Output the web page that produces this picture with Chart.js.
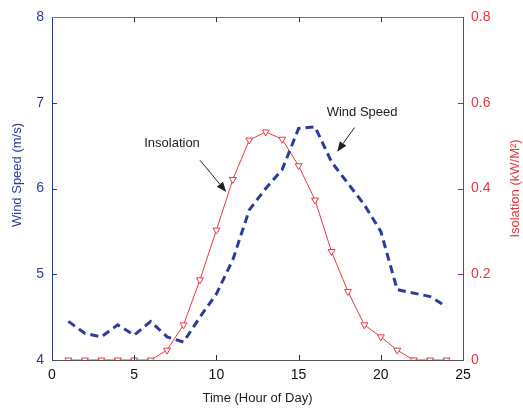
<!DOCTYPE html>
<html>
<head>
<meta charset="utf-8">
<script src="https://cdn.jsdelivr.net/npm/chart.js@4.4.1/dist/chart.umd.min.js"></script>
<style>
  html, body { margin: 0; padding: 0; background: #fff; }
  #wrap { width: 523px; height: 410px; }
</style>
</head>
<body>
<div id="wrap"><canvas id="windChart" width="523" height="410"></canvas></div>
<script>
// hours of the day
const hours = [1, 2, 3, 4, 5, 6, 7, 8, 9, 10, 11, 12, 13, 14, 15, 16, 17, 18, 19, 20, 21, 22, 23, 24];
// wind speed (m/s), left axis
const windSpeed = [4.45, 4.31, 4.27, 4.41, 4.29, 4.45, 4.27, 4.21, 4.5, 4.77, 5.17, 5.75, 6.0, 6.22, 6.7, 6.72, 6.31, 6.06, 5.81, 5.5, 4.82, 4.78, 4.74, 4.62];
// insolation (kW/M2), right axis
const insolation = [0, 0, 0, 0, 0, 0, 0.023, 0.082, 0.187, 0.303, 0.421, 0.513, 0.532, 0.515, 0.453, 0.373, 0.253, 0.16, 0.082, 0.054, 0.023, 0, 0, 0];

const xTicks = [0, 5, 10, 15, 20, 25];
const windTicks = [4, 5, 6, 7, 8];
const insoTicks = [0, 0.2, 0.4, 0.6, 0.8];

const FONT = "'Liberation Sans', Arial, sans-serif";
const BLUE = '#2b3c9c';
const RED = '#e8383d';
const PURPLE = '#8e2f86';

// inward tick marks, top border and axis titles, like the original plot
const insideTicks = {
    id: 'insideTicks',
    afterDatasetsDraw(chart) {
        const ctx = chart.ctx;
        const a = chart.chartArea;
        const x = chart.scales.x, y = chart.scales.y, y1 = chart.scales.y1;
        ctx.save();
        ctx.lineWidth = 1;
        ctx.strokeStyle = '#777';
        ctx.beginPath();
        ctx.moveTo(a.left, a.top + 0.5);
        ctx.lineTo(a.right, a.top + 0.5);
        ctx.stroke();
        ctx.strokeStyle = '#333';
        xTicks.slice(1, -1).forEach(v => {
            const px = Math.round(x.getPixelForValue(v)) + 0.5;
            ctx.beginPath();
            ctx.moveTo(px, a.bottom);
            ctx.lineTo(px, a.bottom - 5);
            ctx.moveTo(px, a.top);
            ctx.lineTo(px, a.top + 5);
            ctx.stroke();
        });
        ctx.strokeStyle = BLUE;
        windTicks.slice(1, -1).forEach(v => {
            const py = Math.round(y.getPixelForValue(v)) + 0.5;
            ctx.beginPath();
            ctx.moveTo(a.left, py);
            ctx.lineTo(a.left + 5, py);
            ctx.stroke();
        });
        ctx.strokeStyle = PURPLE;
        insoTicks.slice(1, -1).forEach(v => {
            const py = Math.round(y1.getPixelForValue(v)) + 0.5;
            ctx.beginPath();
            ctx.moveTo(a.right, py);
            ctx.lineTo(a.right - 5, py);
            ctx.stroke();
        });
        ctx.font = '13px ' + FONT;
        ctx.textAlign = 'center';
        ctx.textBaseline = 'middle';
        // left axis title
        ctx.save();
        ctx.fillStyle = BLUE;
        ctx.translate(17, 175);
        ctx.rotate(-Math.PI / 2);
        ctx.fillText('Wind Speed (m/s)', 0, 0);
        ctx.restore();
        // right axis title, reads bottom to top
        ctx.fillStyle = RED;
        ctx.translate(a.right + 52, (a.top + a.bottom) / 2);
        ctx.rotate(-Math.PI / 2);
        ctx.fillText('Isolation (kW/M\u00B2)', 0, 0);
        ctx.restore();
    }
};

function arrow(ctx, x0, y0, x1, y1) {
    const ang = Math.atan2(y1 - y0, x1 - x0);
    const len = 10, w = 4;
    ctx.beginPath();
    ctx.moveTo(x0, y0);
    ctx.lineTo(x1 - len * Math.cos(ang), y1 - len * Math.sin(ang));
    ctx.stroke();
    ctx.beginPath();
    ctx.moveTo(x1, y1);
    ctx.lineTo(x1 - len * Math.cos(ang) + w * Math.sin(ang), y1 - len * Math.sin(ang) - w * Math.cos(ang));
    ctx.lineTo(x1 - len * Math.cos(ang) - w * Math.sin(ang), y1 - len * Math.sin(ang) + w * Math.cos(ang));
    ctx.closePath();
    ctx.fill();
}

// text labels with arrows, placed in data units
const annotations = {
    id: 'annotations',
    afterDatasetsDraw(chart) {
        const ctx = chart.ctx;
        const x = chart.scales.x, y = chart.scales.y;
        const notes = [
            { text: 'Insolation', tx: 7.3, ty: 6.53, from: [9.0, 6.33], to: [10.6, 5.96] },
            { text: 'Wind Speed', tx: 18.86, ty: 6.89, from: [18.4, 6.71], to: [17.35, 6.43] }
        ];
        ctx.save();
        ctx.font = '13px ' + FONT;
        ctx.fillStyle = '#222';
        ctx.strokeStyle = '#222';
        ctx.lineWidth = 1;
        ctx.textAlign = 'center';
        ctx.textBaseline = 'middle';
        notes.forEach(n => {
            ctx.fillText(n.text, x.getPixelForValue(n.tx), y.getPixelForValue(n.ty));
            arrow(ctx, x.getPixelForValue(n.from[0]), y.getPixelForValue(n.from[1]),
                x.getPixelForValue(n.to[0]), y.getPixelForValue(n.to[1]));
        });
        ctx.restore();
    }
};

const config = {
    type: 'line',
    data: {
        datasets: [{
                label: 'Wind Speed',
                data: hours.map((h, i) => ({ x: h, y: windSpeed[i] })),
                yAxisID: 'y',
                borderColor: BLUE,
                borderWidth: 3,
                borderDash: [8, 5],
                pointRadius: 0,
                tension: 0
            },
            {
                label: 'Insolation',
                data: hours.map((h, i) => ({ x: h, y: insolation[i] })),
                yAxisID: 'y1',
                borderColor: RED,
                borderWidth: 1,
                pointStyle: 'triangle',
                rotation: 180,
                pointRadius: 4,
                pointBorderColor: RED,
                pointBackgroundColor: '#fff',
                pointBorderWidth: 1,
                tension: 0
            }
        ]
    },
    options: {
        responsive: false,
        animation: false,
        layout: { padding: { top: 17, left: 0, right: 0, bottom: 0 } },
        plugins: {
            legend: { display: false },
            tooltip: { enabled: false }
        },
        scales: {
            x: {
                type: 'linear',
                min: 0,
                max: 25,
                afterBuildTicks: s => { s.ticks = xTicks.map(v => ({ value: v })); },
                grid: { drawOnChartArea: false, drawTicks: false },
                border: { color: '#555', width: 1 },
                ticks: { color: '#111', font: { family: FONT, size: 14 }, padding: 7 },
                title: { display: true, text: 'Time (Hour of Day)', color: '#222', font: { family: FONT, size: 13 }, padding: { top: 2 } },
                afterFit: s => { s.height = 50; }
            },
            y: {
                position: 'left',
                min: 4,
                max: 8,
                afterBuildTicks: s => { s.ticks = windTicks.map(v => ({ value: v })); },
                grid: { drawOnChartArea: false, drawTicks: false },
                border: { color: BLUE, width: 1 },
                ticks: { color: BLUE, font: { family: FONT, size: 14 }, padding: 8 },
                afterFit: s => { s.width = 52; }
            },
            y1: {
                position: 'right',
                min: 0,
                max: 0.8,
                afterBuildTicks: s => { s.ticks = insoTicks.map(v => ({ value: v })); },
                grid: { drawOnChartArea: false, drawTicks: false },
                border: { color: PURPLE, width: 1 },
                ticks: { color: RED, font: { family: FONT, size: 14 }, padding: 8 },
                afterFit: s => { s.width = 60; }
            }
        }
    },
    plugins: [insideTicks, annotations]
};

const windChart = new Chart('windChart', config);
</script>
</body>
</html>
